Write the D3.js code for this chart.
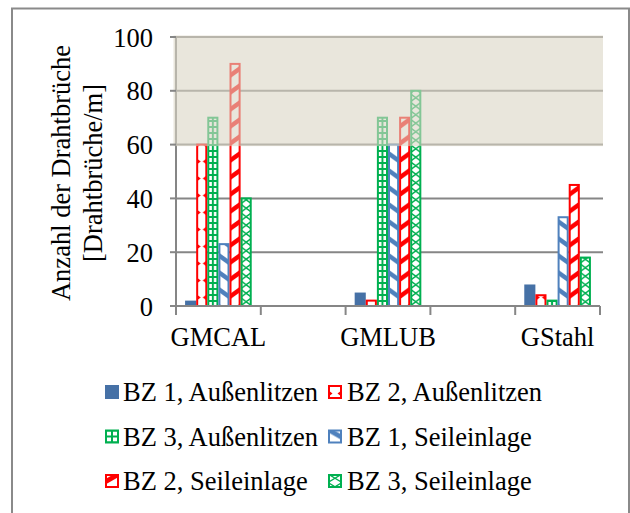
<!DOCTYPE html>
<html><head><meta charset="utf-8">
<script src="https://cdn.jsdelivr.net/npm/d3@7"></script>
<style>
html,body{margin:0;padding:0;background:#fff;}
svg{display:block;font-family:"Liberation Serif","Times New Roman",serif;}
</style></head>
<body>
<svg id="chart" width="630" height="513"></svg>
<script>
const categories = ["GMCAL", "", "GMLUB", "", "GStahl"];
const seriesNames = ["BZ 1, Außenlitzen", "BZ 2, Außenlitzen", "BZ 3, Außenlitzen",
                     "BZ 1, Seileinlage", "BZ 2, Seileinlage", "BZ 3, Seileinlage"];
const bz1Aussen = [2, null, 5, null, 8];
const bz2Aussen = [60, null, 2, null, 4];
const bz3Aussen = [70, null, 70, null, 2];
const bz1Seil   = [23, null, 60, null, 33];
const bz2Seil   = [90, null, 70, null, 45];
const bz3Seil   = [40, null, 80, null, 18];
const yTicks = [0, 20, 40, 60, 80, 100];
const yTitle = ["Anzahl der Drahtbrüche", "[Drahtbrüche/m]"];
const bandRange = [60, 100];

const seriesValues = [bz1Aussen, bz2Aussen, bz3Aussen, bz1Seil, bz2Seil, bz3Seil];
const colors = ["#4671a6", "#ff0000", "#00b050", "#4f81bd", "#ff0000", "#00b050"];
const FS = 26.5;

const svg = d3.select("#chart");
const defs = svg.append("defs");

// outer frame
svg.append("rect").attr("x", 12).attr("y", 8.5).attr("width", 617).attr("height", 520)
  .attr("fill", "none").attr("stroke", "#8a8a8a").attr("stroke-width", 2);

const x0 = 176, x1 = 600;
const y = d3.scaleLinear().domain([0, 100]).range([306, 37]);
const xBand = d3.scaleBand().domain(d3.range(categories.length)).range([x0, x1]).paddingInner(0).paddingOuter(0);
const bw = xBand.bandwidth() * 0.131;
const xInner = i => (xBand.bandwidth() - 6 * bw) / 2 + i * bw;

// pattern builder
function makePattern(id, s, px, py, w) {
  const c = colors[s];
  let h = 17;
  if (s === 2) h = 6;
  const p = defs.append("pattern").attr("id", id).attr("patternUnits", "userSpaceOnUse")
    .attr("x", px).attr("y", py).attr("width", w).attr("height", h);
  p.append("rect").attr("width", w).attr("height", h).attr("fill", "#fff");
  if (s === 1) {
    p.append("polygon").attr("points", `0,5 4.5,8.5 0,12`).attr("fill", c);
    p.append("polygon").attr("points", `${w},5 ${w-4.5},8.5 ${w},12`).attr("fill", c);
  } else if (s === 2) {
    p.append("rect").attr("x", w / 2 - 1).attr("y", 0).attr("width", 2).attr("height", h).attr("fill", c);
    p.append("rect").attr("x", 0).attr("y", 0).attr("width", w).attr("height", 2).attr("fill", c);
  } else if (s === 3 || s === 4) {
    const d = 8, t = 5.5;
    const pts = (o) => s === 3
      ? `0,${o - t/2} ${w},${o + d - t/2} ${w},${o + d + t/2} 0,${o + t/2}`
      : `0,${o + d - t/2} ${w},${o - t/2} ${w},${o + t/2} 0,${o + d + t/2}`;
    [-h, 0, h].forEach(o => p.append("polygon").attr("points", pts(o)).attr("fill", c));
  } else if (s === 5) {
    p.append("path").attr("d", `M0,0 L${w},${h/2} L0,${h} M${w},0 L0,${h/2} L${w},${h}`)
      .attr("fill", "none").attr("stroke", c).attr("stroke-width", 1.4);
  }
  return `url(#${id})`;
}

// gridlines
svg.append("g").selectAll("line").data(yTicks.filter(v => v > 0)).join("line")
  .attr("x1", x0).attr("x2", x1 + 3).attr("y1", d => y(d)).attr("y2", d => y(d))
  .attr("stroke", "#868686").attr("stroke-width", 2);

// bars
const gBars = svg.append("g");
seriesValues.forEach((vals, s) => {
  vals.forEach((v, ci) => {
    if (v == null) return;
    const bx = xBand(ci) + xInner(s);
    const by = y(v);
    const bh = y(0) - by;
    let fill = colors[s];
    if (s > 0) fill = makePattern(`p${s}_${ci}`, s, bx, y(0), bw);
    gBars.append("rect").attr("x", bx + (s > 0 ? 1 : 0)).attr("y", by)
      .attr("width", bw - (s > 0 ? 2 : 0)).attr("height", bh)
      .attr("fill", fill)
      .attr("stroke", s > 0 ? colors[s] : "none").attr("stroke-width", s > 0 ? 2 : 0);
  });
});

// y axis line
svg.append("line").attr("x1", x0).attr("x2", x0).attr("y1", y(100)).attr("y2", y(0) + 9)
  .attr("stroke", "#868686").attr("stroke-width", 2);

// highlighted band overlay
svg.append("rect").attr("x", x0 - 2.5).attr("y", y(bandRange[1]) - 1.5)
  .attr("width", x1 + 3 - (x0 - 2.5)).attr("height", y(bandRange[0]) - y(bandRange[1]) + 3)
  .attr("fill", "rgb(218,213,197)").attr("fill-opacity", 0.6);

// y ticks
svg.append("g").selectAll("line").data(yTicks).join("line")
  .attr("x1", x0 - 6).attr("x2", x0).attr("y1", d => y(d)).attr("y2", d => y(d))
  .attr("stroke", "#868686").attr("stroke-width", 2);
svg.append("g").selectAll("text").data(yTicks).join("text")
  .attr("x", 153).attr("y", d => y(d) + 9.5).attr("text-anchor", "end")
  .attr("font-size", FS).attr("fill", "#000").text(d => d);

// x axis
svg.append("line").attr("x1", x0).attr("x2", x1).attr("y1", y(0)).attr("y2", y(0))
  .attr("stroke", "#868686").attr("stroke-width", 2);
const xt = d3.range(categories.length + 1).map(i => i < categories.length ? xBand(i) : x1);
svg.append("g").selectAll("line").data(xt).join("line")
  .attr("x1", d => d).attr("x2", d => d).attr("y1", y(0)).attr("y2", y(0) + 9)
  .attr("stroke", "#868686").attr("stroke-width", 2);
svg.append("g").selectAll("text").data(categories).join("text")
  .attr("x", (d, i) => xBand(i) + xBand.bandwidth() / 2).attr("y", 346)
  .attr("text-anchor", "middle").attr("font-size", FS).attr("fill", "#000").text(d => d);

// y title
yTitle.forEach((t, i) => {
  svg.append("text").attr("transform", `translate(${70 + i * 32},173) rotate(-90)`)
    .attr("text-anchor", "middle").attr("font-size", FS).attr("fill", "#000").text(t);
});

// legend
const legX = [105, 328], legTextX = [123, 347], legBase = [401, 445.5, 490];
seriesNames.forEach((name, s) => {
  const col = s % 2, row = Math.floor(s / 2);
  const ix = legX[col], iy = legBase[row] - 16, isz = 14;
  let fill = colors[s];
  if (s > 0) fill = makePattern(`lp${s}`, s, ix, iy, isz);
  svg.append("rect").attr("x", ix + (s > 0 ? 1 : 0)).attr("y", iy + (s > 0 ? 1 : 0))
    .attr("width", isz - (s > 0 ? 2 : 0)).attr("height", isz - (s > 0 ? 2 : 0))
    .attr("fill", fill).attr("stroke", s > 0 ? colors[s] : "none").attr("stroke-width", s > 0 ? 2 : 0);
  svg.append("text").attr("x", legTextX[col]).attr("y", legBase[row])
    .attr("font-size", FS).attr("fill", "#000").text(name);
});
</script>
</body></html>
